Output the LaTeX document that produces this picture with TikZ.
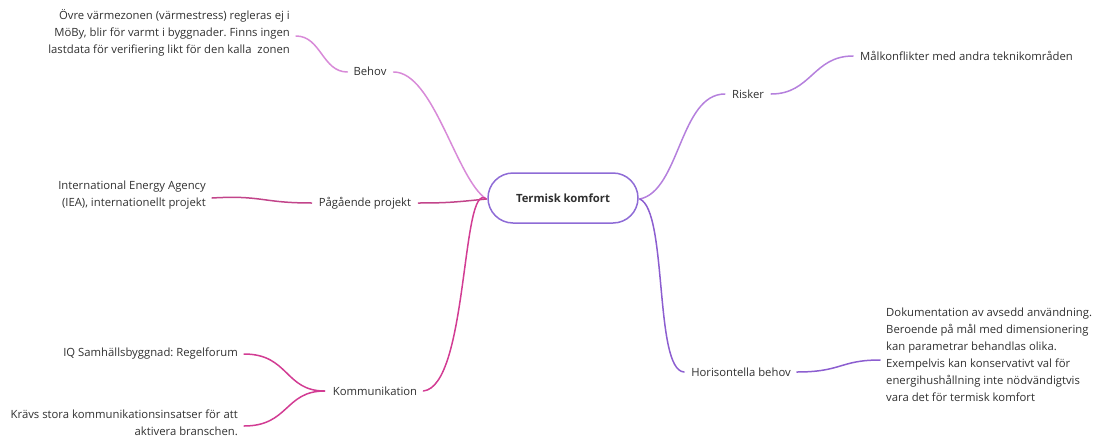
\documentclass[tikz,border=0pt]{standalone}
\usepackage{fontspec}
\setmainfont{Open Sans}
\frenchspacing
\definecolor{txt}{HTML}{303030}
\definecolor{cbehov}{HTML}{D88AD8}
\definecolor{cproj}{HTML}{C2448A}
\definecolor{ckomm}{HTML}{D23C93}
\definecolor{crisk}{HTML}{B580DD}
\definecolor{chor}{HTML}{8C5ED0}
\definecolor{chub}{HTML}{8E6BD6}
\begin{document}
\begin{tikzpicture}[x=1pt,y=-1pt,
  lbl/.style={font=\fontsize{11.3}{17}\selectfont, text=txt, inner sep=0pt},
  leaf/.style={lbl, align=right},
  leafr/.style={lbl, align=left},
  link/.style={line width=1.5pt, line cap=round},
  hubbox/.style={draw=chub, line width=1.5pt, rounded corners=25pt,
    minimum width=150pt, minimum height=50pt, fill=white,
    font=\fontsize{11.3}{13}\selectfont\bfseries, text=txt}]
\useasboundingbox (0,0) rectangle (1099,442);

% central topic
\node[hubbox] (hub) at (563,198) {Termisk komfort};

% left side branches
\node[lbl] (behov) at (370,71) {Behov};
\node[leaf, anchor=east] (behovtxt) at (290,33)
  {Övre värmezonen (värmestress) regleras ej i\\
   MöBy, blir för varmt i byggnader. Finns ingen\\
   lastdata för verifiering likt för den kalla\ \ zonen};

\node[lbl] (proj) at (365,203) {Pågående projekt};
\node[leaf, anchor=east] (iea) at (206,195)
  {International Energy Agency\\ (IEA), internationellt projekt};

\node[lbl] (komm) at (375,391) {Kommunikation};
\node[leaf, anchor=east] (iq) at (238,354) {IQ Samhällsbyggnad: Regelforum};
\node[leaf, anchor=east] (kravs) at (238,423)
  {Krävs stora kommunikationsinsatser för att\\ aktivera branschen.};

% right side branches
\node[lbl] (risk) at (748,94) {Risker};
\node[leafr, anchor=west] (mal) at (860,56) {Målkonflikter med andra teknikområden};

\node[lbl] (hor) at (741,372) {Horisontella behov};
\node[leafr, anchor=west] (dok) at (886,355)
  {Dokumentation av avsedd användning.\\
   Beroende på mål med dimensionering\\
   kan parametrar behandlas olika.\\
   Exempelvis kan konservativt val för\\
   energihushållning inte nödvändigtvis\\
   vara det för termisk komfort};

% connectors: hub to first level
\draw[link, cbehov] ([xshift=7pt,yshift=-1pt]behov.east) .. controls +(40,0) and +(-30,-20) .. ([xshift=-1pt,yshift=-1pt]hub.west);
\draw[link, cproj] ([xshift=7pt]proj.east) .. controls +(30,0) and +(-30,3) .. ([xshift=-1pt,yshift=-1pt]hub.west);
\draw[link, ckomm] ([xshift=6pt]komm.east) .. controls +(45,-5) and +(-25,-20) .. ([xshift=-1pt,yshift=-1pt]hub.west);
\draw[link, crisk] ([xshift=1pt,yshift=-1pt]hub.east) .. controls +(40,-8) and +(-45,0) .. ([xshift=-7pt]risk.west);
\draw[link, chor] ([xshift=1pt,yshift=-1pt]hub.east) .. controls +(28,12) and +(-30,-2) .. ([xshift=-7pt]hor.west);

% connectors: first level to leaves
\draw[link, cbehov] ([xshift=6pt,yshift=-3pt]behovtxt.east) .. controls +(25,0) and +(-25,0) .. ([xshift=-6pt,yshift=-1pt]behov.west);
\draw[link, cproj] ([xshift=6pt,yshift=-3pt]iea.east) .. controls +(50,-3) and +(-50,0) .. ([xshift=-7pt]proj.west);
\draw[link, ckomm] ([xshift=6pt]iq.east) .. controls +(45,0) and +(-40,0) .. ([xshift=-8pt]komm.west);
\draw[link, ckomm] ([xshift=6pt,yshift=-3pt]kravs.east) .. controls +(45,0) and +(-40,0) .. ([xshift=-8pt]komm.west);
\draw[link, crisk] ([xshift=7pt]risk.east) .. controls +(40,0) and +(-40,0) .. ([xshift=-7pt]mal.west);
\draw[link, chor] ([xshift=6pt]hor.east) .. controls +(45,0) and +(-40,0) .. ([xshift=-6pt,yshift=-5pt]dok.west);
\end{tikzpicture}
\end{document}
